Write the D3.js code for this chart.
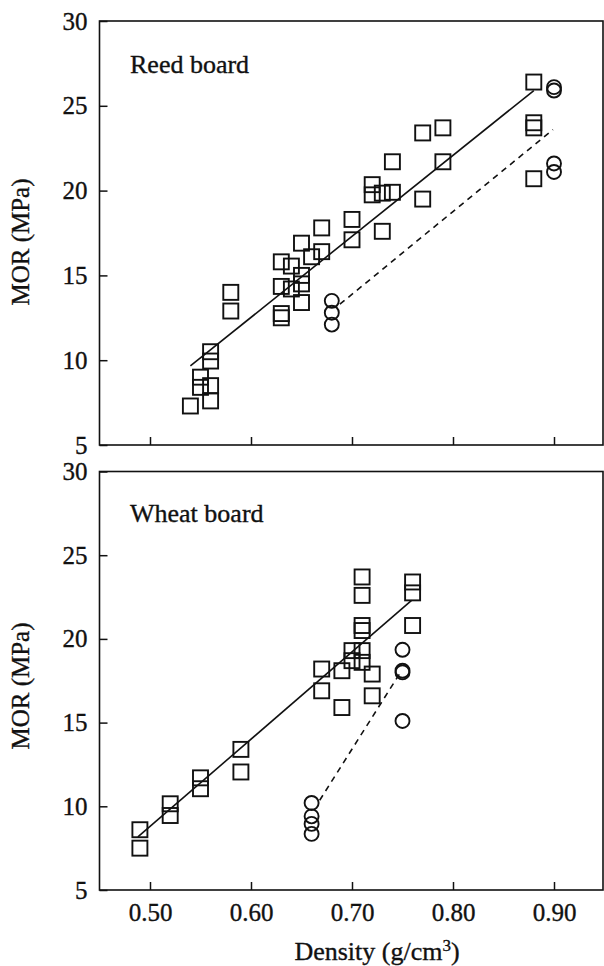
<!DOCTYPE html>
<html>
<head>
<meta charset="utf-8">
<script src="https://cdn.jsdelivr.net/npm/d3@7/dist/d3.min.js"></script>
<style>
  html, body { margin: 0; padding: 0; background: #fff; }
  svg { display: block; }
  text { font-family: "Liberation Serif", "DejaVu Serif", serif; fill: #111; stroke: #111; stroke-width: 0.35px; }
</style>
</head>
<body>
<svg id="chart" width="604" height="966"></svg>
<script>
// ---------- data ----------
const xTicks = [0.50, 0.60, 0.70, 0.80, 0.90];
const xTickLabels = ["0.50", "0.60", "0.70", "0.80", "0.90"];
const yTicks = [5, 10, 15, 20, 25, 30];
const yTickLabels = ["5", "10", "15", "20", "25", "30"];

// Reed board – squares
const reedSqX = [0.88, 0.88, 0.88, 0.88, 0.77, 0.79, 0.79, 0.74, 0.77, 0.72, 0.72, 0.73, 0.74, 0.73,
                 0.70, 0.70, 0.67, 0.67, 0.66, 0.65, 0.63, 0.64, 0.65, 0.65, 0.63, 0.64, 0.65, 0.63, 0.63,
                 0.58, 0.58, 0.56, 0.56, 0.55, 0.55, 0.56, 0.56, 0.54];
const reedSqY = [26.4, 24.0, 23.7, 20.7, 23.4, 23.7, 21.7, 21.7, 19.5, 20.35, 19.75, 19.85, 19.9, 17.6,
                 18.3, 17.1, 17.8, 16.4, 16.1, 16.9, 15.8, 15.55, 15.0, 14.5, 14.35, 14.2, 13.4, 12.75, 12.5,
                 14.0, 12.9, 10.5, 9.95, 9.0, 8.4, 8.5, 7.6, 7.3];
// Reed board – circles
const reedCiX = [0.90, 0.90, 0.90, 0.90, 0.68, 0.68, 0.68];
const reedCiY = [26.1, 25.9, 21.6, 21.1, 13.5, 12.8, 12.1];
// Reed board – fitted lines (end points)
const reedSolidX = [0.54, 0.88];
const reedSolidY = [9.66, 25.9];
const reedDashX = [0.688, 0.899];
const reedDashY = [13.3, 23.6];

// Wheat board – squares
const wheatSqX = [0.71, 0.71, 0.76, 0.76, 0.76, 0.71, 0.71, 0.70, 0.71, 0.71, 0.70, 0.69, 0.67, 0.67,
                  0.72, 0.72, 0.69, 0.59, 0.59, 0.55, 0.55, 0.52, 0.52, 0.49, 0.49];
const wheatSqY = [23.7, 22.6, 23.4, 22.75, 20.8, 20.8, 20.5, 19.3, 19.3, 18.6, 18.7, 18.1, 18.2, 16.9,
                  17.9, 16.6, 15.9, 13.4, 12.05, 11.7, 11.05, 10.15, 9.45, 8.6, 7.5];
// Wheat board – circles
const wheatCiX = [0.75, 0.75, 0.75, 0.75, 0.66, 0.66, 0.66, 0.66];
const wheatCiY = [19.35, 18.1, 18.0, 15.1, 10.2, 9.4, 8.95, 8.35];
// Wheat board – fitted lines (end points)
const wheatSolidX = [0.488, 0.759];
const wheatSolidY = [8.17, 22.3];
const wheatDashX = [0.668, 0.748];
const wheatDashY = [10.36, 18.0];

// ---------- drawing ----------
const svg = d3.select("#chart");
const x = d3.scaleLinear().domain([0.45, 0.95]).range([99.5, 604.5]);
const frameRight = 603;

function panel(opts) {
  const y = d3.scaleLinear().domain([5, 30]).range([opts.bottom, opts.top]);
  const g = svg.append("g");

  // frame
  g.append("rect")
    .attr("x", x(0.45)).attr("y", y(30))
    .attr("width", frameRight - x(0.45)).attr("height", y(5) - y(30))
    .attr("fill", "none").attr("stroke", "#111").attr("stroke-width", 1.6);

  // x axis (ticks inward)
  const xAxis = d3.axisBottom(x).tickValues(xTicks).tickSize(-8)
    .tickFormat((d, i) => opts.showXLabels ? xTickLabels[i] : "");
  const gx = g.append("g").attr("transform", `translate(0,${y(5)})`).call(xAxis);
  gx.select(".domain").remove();
  gx.selectAll(".tick line").attr("stroke", "#111").attr("stroke-width", 1.5);
  gx.selectAll(".tick text").attr("font-size", 25).attr("dy", "1.1em")
    .style("font-family", "Liberation Serif, serif").attr("fill", "#111");

  // y axis (ticks inward)
  const yAxis = d3.axisLeft(y).tickValues(yTicks).tickSize(-8)
    .tickFormat((d, i) => yTickLabels[i]).tickPadding(12);
  const gy = g.append("g").attr("transform", `translate(${x(0.45)},0)`).call(yAxis);
  gy.select(".domain").remove();
  gy.selectAll(".tick line").attr("stroke", "#111").attr("stroke-width", 1.5);
  gy.selectAll(".tick text").attr("font-size", 25)
    .style("font-family", "Liberation Serif, serif").attr("fill", "#111");

  // y label
  g.append("text")
    .attr("transform", `translate(29,${opts.ylabelY}) rotate(-90)`)
    .attr("text-anchor", "middle").attr("font-size", 25)
    .text("MOR (MPa)");

  // panel title
  g.append("text").attr("x", 130).attr("y", opts.titleY)
    .attr("font-size", 26).text(opts.title);

  // lines
  const line = d3.line().x(d => x(d[0])).y(d => y(d[1]));
  g.append("path").datum(d3.zip(opts.solidX, opts.solidY))
    .attr("d", line).attr("fill", "none").attr("stroke", "#111").attr("stroke-width", 1.6);
  g.append("path").datum(d3.zip(opts.dashX, opts.dashY))
    .attr("d", line).attr("fill", "none").attr("stroke", "#111").attr("stroke-width", 1.6)
    .attr("stroke-dasharray", "6,5");

  // squares
  const s = 15;
  g.selectAll("rect.sq").data(d3.zip(opts.sqX, opts.sqY)).enter().append("rect")
    .attr("class", "sq")
    .attr("x", d => x(d[0]) - s / 2).attr("y", d => y(d[1]) - s / 2)
    .attr("width", s).attr("height", s)
    .attr("fill", "none").attr("stroke", "#111").attr("stroke-width", 1.9);

  // circles
  g.selectAll("circle.ci").data(d3.zip(opts.ciX, opts.ciY)).enter().append("circle")
    .attr("class", "ci")
    .attr("cx", d => x(d[0])).attr("cy", d => y(d[1])).attr("r", 7)
    .attr("fill", "none").attr("stroke", "#111").attr("stroke-width", 1.9);
}

panel({
  top: 21, bottom: 445, title: "Reed board", titleY: 73, ylabelY: 242, showXLabels: false,
  sqX: reedSqX, sqY: reedSqY, ciX: reedCiX, ciY: reedCiY,
  solidX: reedSolidX, solidY: reedSolidY, dashX: reedDashX, dashY: reedDashY
});
panel({
  top: 471.5, bottom: 890, title: "Wheat board", titleY: 522, ylabelY: 686, showXLabels: true,
  sqX: wheatSqX, sqY: wheatSqY, ciX: wheatCiX, ciY: wheatCiY,
  solidX: wheatSolidX, solidY: wheatSolidY, dashX: wheatDashX, dashY: wheatDashY
});

// x axis title
const xt = svg.append("text").attr("x", 377).attr("y", 960)
  .attr("text-anchor", "middle").attr("font-size", 26);
xt.append("tspan").text("Density (g/cm");
xt.append("tspan").attr("font-size", 17).attr("dy", -9).text("3");
xt.append("tspan").attr("dy", 9).text(")");
</script>
</body>
</html>
